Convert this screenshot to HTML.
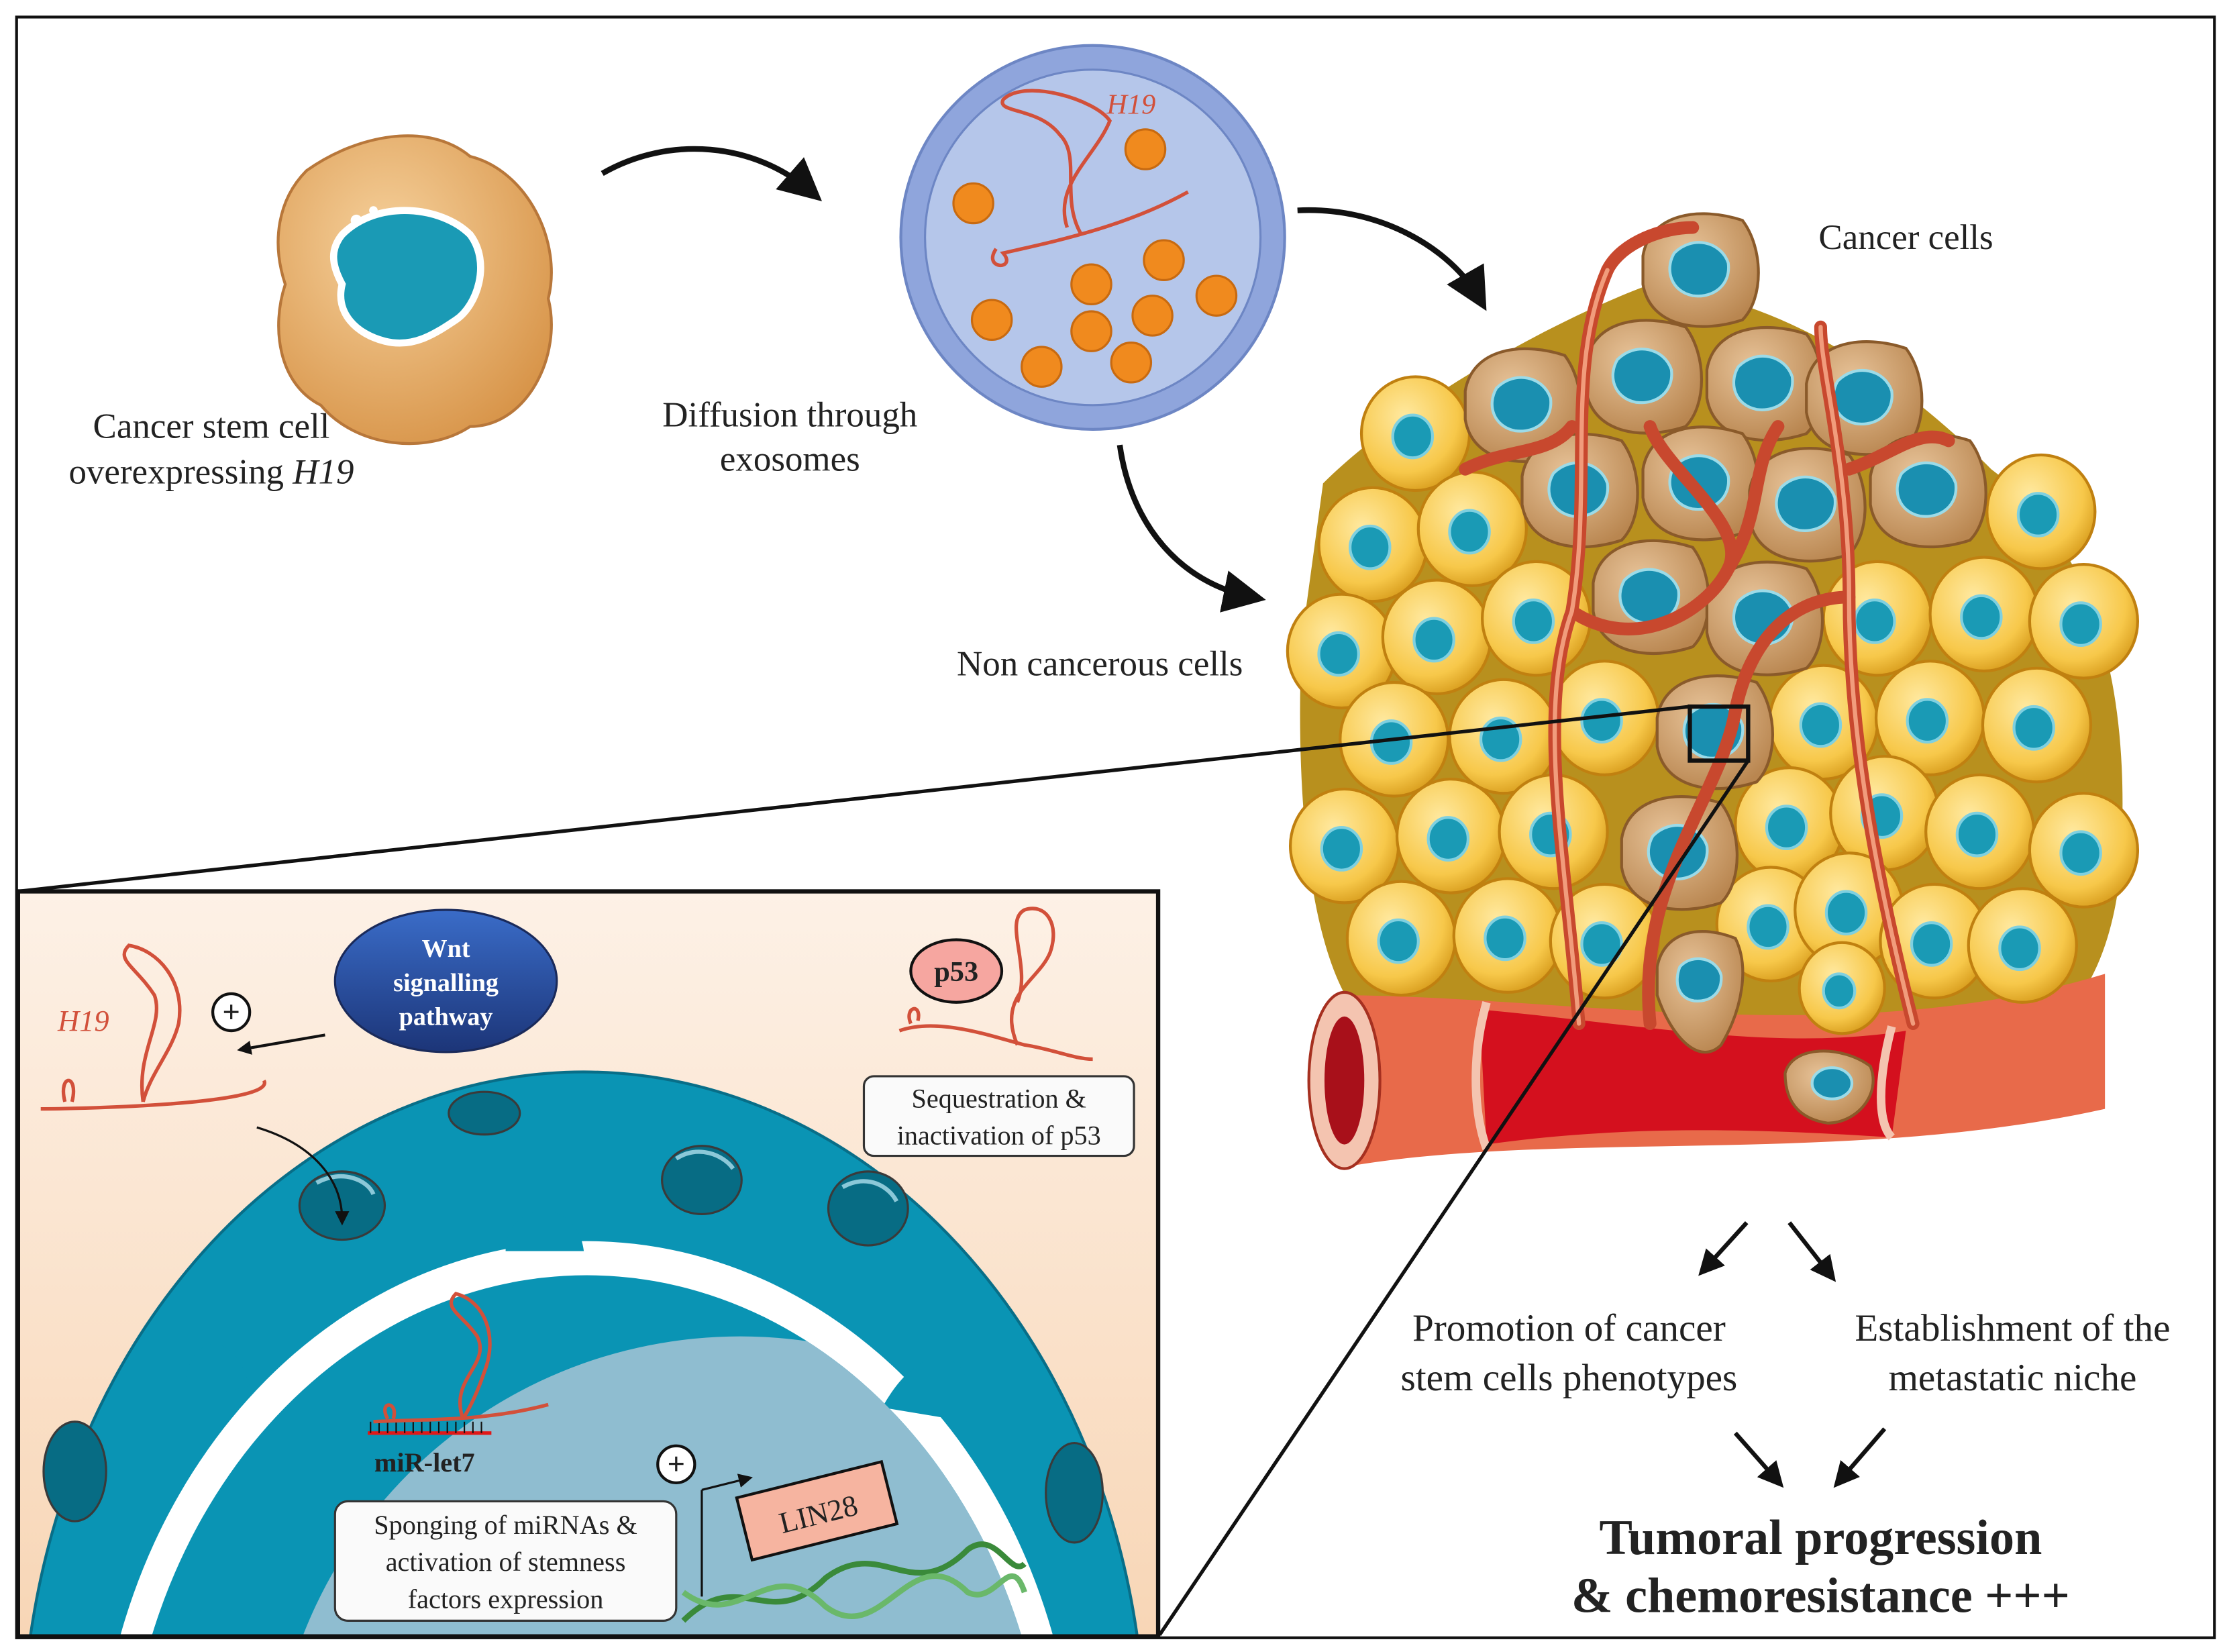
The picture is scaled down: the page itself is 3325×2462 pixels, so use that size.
<!DOCTYPE html>
<html><head><meta charset="utf-8"><style>
html,body{margin:0;padding:0;background:#fff;width:3325px;height:2462px;overflow:hidden}
svg{display:block}
text{font-family:"Liberation Serif",serif;fill:#222}
</style></head><body>
<svg width="3325" height="2462" viewBox="0 0 1568 1162" xmlns="http://www.w3.org/2000/svg">
<defs>
<linearGradient id="peach" x1="0" y1="0" x2="0" y2="1"><stop offset="0" stop-color="#fdf1e6"/><stop offset="1" stop-color="#f8d6b6"/></linearGradient>
<linearGradient id="wnt" x1="0" y1="0" x2="0" y2="1"><stop offset="0" stop-color="#3a6cc8"/><stop offset="1" stop-color="#1c3578"/></linearGradient>
<radialGradient id="ycell" cx="0.4" cy="0.35" r="0.7"><stop offset="0" stop-color="#ffe9a0"/><stop offset="0.7" stop-color="#f7c84a"/><stop offset="1" stop-color="#d69a1a"/></radialGradient>
<radialGradient id="bcell" cx="0.4" cy="0.35" r="0.7"><stop offset="0" stop-color="#e8c49a"/><stop offset="1" stop-color="#b98650"/></radialGradient>
<radialGradient id="csc" cx="0.4" cy="0.35" r="0.7"><stop offset="0" stop-color="#f6d19c"/><stop offset="1" stop-color="#d8954a"/></radialGradient>
<clipPath id="nucclip"><ellipse cx="412" cy="1280" rx="325" ry="383"/></clipPath>
<marker id="ah" markerWidth="10" markerHeight="10" refX="6" refY="5" orient="auto" markerUnits="userSpaceOnUse"><path d="M0,0 L10,5 L0,10 z" fill="#111"/></marker>
<marker id="bh" markerWidth="30" markerHeight="30" refX="20" refY="15" orient="auto" markerUnits="userSpaceOnUse"><path d="M0,0 L30,15 L0,30 z" fill="#111"/></marker>
<marker id="mh" markerWidth="18" markerHeight="18" refX="12" refY="9" orient="auto" markerUnits="userSpaceOnUse"><path d="M0,0 L18,9 L0,18 z" fill="#111"/></marker>
</defs>
<rect width="1568" height="1162" fill="#fff"/>
<rect x="11" y="12" width="1546" height="1140" fill="none" stroke="#111" stroke-width="2"/>

<path d="M215,120 C250,95 300,85 330,110 C370,120 395,170 385,210 C395,250 370,300 330,300 C300,320 250,315 225,285 C195,270 190,230 200,200 C190,170 195,140 215,120 Z" fill="url(#csc)" stroke="#b8773a" stroke-width="2"/>
<path d="M240,165 C265,140 310,145 330,165 C345,185 335,215 320,225 C305,235 290,245 270,240 C250,235 235,220 240,200 C232,185 232,175 240,165 Z" fill="#1a9ab5" stroke="#fff" stroke-width="5"/>
<circle cx="250" cy="155" r="4" fill="#fff"/><circle cx="262" cy="148" r="3" fill="#fff"/>
<text x="148" y="308" font-size="25" text-anchor="middle">Cancer stem cell</text>
<text x="148" y="340" font-size="25" text-anchor="middle">overexpressing <tspan font-style="italic">H19</tspan></text>

<path d="M423,122 C470,95 530,100 570,135" fill="none" stroke="#111" stroke-width="4" marker-end="url(#bh)"/>
<path d="M912,148 C970,145 1020,175 1040,210" fill="none" stroke="#111" stroke-width="4" marker-end="url(#bh)"/>
<path d="M787,313 C795,370 830,410 880,420" fill="none" stroke="#111" stroke-width="4" marker-end="url(#bh)"/>
<text x="555" y="300" font-size="25" text-anchor="middle">Diffusion through</text>
<text x="555" y="331" font-size="25" text-anchor="middle">exosomes</text>

<circle cx="768" cy="167" r="135" fill="#8fa5dc" stroke="#6d86c4" stroke-width="2"/>
<circle cx="768" cy="167" r="118" fill="#b5c6ea" stroke="#6d86c4" stroke-width="1.5"/>
<g fill="#f08a1e" stroke="#c86a10" stroke-width="1.5">
<circle cx="805" cy="105" r="14"/><circle cx="684" cy="143" r="14"/><circle cx="818" cy="183" r="14"/><circle cx="767" cy="200" r="14"/><circle cx="855" cy="208" r="14"/><circle cx="697" cy="225" r="14"/><circle cx="767" cy="233" r="14"/><circle cx="810" cy="222" r="14"/><circle cx="732" cy="258" r="14"/><circle cx="795" cy="255" r="14"/>
</g>
<path d="M700,175 C690,190 715,190 705,178 C740,170 790,160 835,135 M760,165 C745,140 760,110 745,95 C730,75 700,80 705,70 C720,55 770,70 780,85 C770,110 740,130 750,160" fill="none" stroke="#d2503a" stroke-width="2.5"/>
<text x="795" y="80" font-size="20" font-style="italic" text-anchor="middle" style="fill:#d2503a">H19</text>

<path d="M930,340 C980,290 1080,230 1160,200 C1250,210 1330,260 1400,330 C1480,390 1500,500 1490,620 C1480,700 1440,740 1400,730 L960,720 C920,680 910,560 915,450 Z" fill="#b8901e"/>
<path d="M940,700 C1100,700 1300,740 1480,685 L1480,780 C1300,820 1100,795 950,820 Z" fill="#e86a4a"/>
<path d="M1040,710 C1150,720 1250,740 1340,725 L1330,800 C1250,795 1150,790 1045,805 Z" fill="#d4101e"/>
<ellipse cx="945" cy="760" rx="25" ry="62" fill="#f4c4b0" stroke="#a63020" stroke-width="2"/>
<ellipse cx="945" cy="760" rx="14" ry="45" fill="#a8101a"/>
<path d="M1045,705 C1035,740 1035,780 1045,808 M1330,722 C1320,760 1320,790 1330,800" stroke="#f4c4b0" stroke-width="6" fill="none"/>

<g>
<g transform="translate(995,305)"><ellipse rx="38" ry="40" fill="url(#ycell)" stroke="#c08010" stroke-width="2"/><ellipse cx="-2" cy="2" rx="14" ry="15" fill="#1a9ab5" stroke="#7fd0e0" stroke-width="2"/></g>
<g transform="translate(965,383)"><ellipse rx="38" ry="40" fill="url(#ycell)" stroke="#c08010" stroke-width="2"/><ellipse cx="-2" cy="2" rx="14" ry="15" fill="#1a9ab5" stroke="#7fd0e0" stroke-width="2"/></g>
<g transform="translate(1035,372)"><ellipse rx="38" ry="40" fill="url(#ycell)" stroke="#c08010" stroke-width="2"/><ellipse cx="-2" cy="2" rx="14" ry="15" fill="#1a9ab5" stroke="#7fd0e0" stroke-width="2"/></g>
<g transform="translate(1435,360)"><ellipse rx="38" ry="40" fill="url(#ycell)" stroke="#c08010" stroke-width="2"/><ellipse cx="-2" cy="2" rx="14" ry="15" fill="#1a9ab5" stroke="#7fd0e0" stroke-width="2"/></g>
<g transform="translate(943,458)"><ellipse rx="38" ry="40" fill="url(#ycell)" stroke="#c08010" stroke-width="2"/><ellipse cx="-2" cy="2" rx="14" ry="15" fill="#1a9ab5" stroke="#7fd0e0" stroke-width="2"/></g>
<g transform="translate(1010,448)"><ellipse rx="38" ry="40" fill="url(#ycell)" stroke="#c08010" stroke-width="2"/><ellipse cx="-2" cy="2" rx="14" ry="15" fill="#1a9ab5" stroke="#7fd0e0" stroke-width="2"/></g>
<g transform="translate(1080,435)"><ellipse rx="38" ry="40" fill="url(#ycell)" stroke="#c08010" stroke-width="2"/><ellipse cx="-2" cy="2" rx="14" ry="15" fill="#1a9ab5" stroke="#7fd0e0" stroke-width="2"/></g>
<g transform="translate(1320,435)"><ellipse rx="38" ry="40" fill="url(#ycell)" stroke="#c08010" stroke-width="2"/><ellipse cx="-2" cy="2" rx="14" ry="15" fill="#1a9ab5" stroke="#7fd0e0" stroke-width="2"/></g>
<g transform="translate(1395,432)"><ellipse rx="38" ry="40" fill="url(#ycell)" stroke="#c08010" stroke-width="2"/><ellipse cx="-2" cy="2" rx="14" ry="15" fill="#1a9ab5" stroke="#7fd0e0" stroke-width="2"/></g>
<g transform="translate(1465,437)"><ellipse rx="38" ry="40" fill="url(#ycell)" stroke="#c08010" stroke-width="2"/><ellipse cx="-2" cy="2" rx="14" ry="15" fill="#1a9ab5" stroke="#7fd0e0" stroke-width="2"/></g>
<g transform="translate(980,520)"><ellipse rx="38" ry="40" fill="url(#ycell)" stroke="#c08010" stroke-width="2"/><ellipse cx="-2" cy="2" rx="14" ry="15" fill="#1a9ab5" stroke="#7fd0e0" stroke-width="2"/></g>
<g transform="translate(1057,518)"><ellipse rx="38" ry="40" fill="url(#ycell)" stroke="#c08010" stroke-width="2"/><ellipse cx="-2" cy="2" rx="14" ry="15" fill="#1a9ab5" stroke="#7fd0e0" stroke-width="2"/></g>
<g transform="translate(1128,505)"><ellipse rx="38" ry="40" fill="url(#ycell)" stroke="#c08010" stroke-width="2"/><ellipse cx="-2" cy="2" rx="14" ry="15" fill="#1a9ab5" stroke="#7fd0e0" stroke-width="2"/></g>
<g transform="translate(1282,508)"><ellipse rx="38" ry="40" fill="url(#ycell)" stroke="#c08010" stroke-width="2"/><ellipse cx="-2" cy="2" rx="14" ry="15" fill="#1a9ab5" stroke="#7fd0e0" stroke-width="2"/></g>
<g transform="translate(1357,505)"><ellipse rx="38" ry="40" fill="url(#ycell)" stroke="#c08010" stroke-width="2"/><ellipse cx="-2" cy="2" rx="14" ry="15" fill="#1a9ab5" stroke="#7fd0e0" stroke-width="2"/></g>
<g transform="translate(1432,510)"><ellipse rx="38" ry="40" fill="url(#ycell)" stroke="#c08010" stroke-width="2"/><ellipse cx="-2" cy="2" rx="14" ry="15" fill="#1a9ab5" stroke="#7fd0e0" stroke-width="2"/></g>
<g transform="translate(945,595)"><ellipse rx="38" ry="40" fill="url(#ycell)" stroke="#c08010" stroke-width="2"/><ellipse cx="-2" cy="2" rx="14" ry="15" fill="#1a9ab5" stroke="#7fd0e0" stroke-width="2"/></g>
<g transform="translate(1020,588)"><ellipse rx="38" ry="40" fill="url(#ycell)" stroke="#c08010" stroke-width="2"/><ellipse cx="-2" cy="2" rx="14" ry="15" fill="#1a9ab5" stroke="#7fd0e0" stroke-width="2"/></g>
<g transform="translate(1092,585)"><ellipse rx="38" ry="40" fill="url(#ycell)" stroke="#c08010" stroke-width="2"/><ellipse cx="-2" cy="2" rx="14" ry="15" fill="#1a9ab5" stroke="#7fd0e0" stroke-width="2"/></g>
<g transform="translate(1258,580)"><ellipse rx="38" ry="40" fill="url(#ycell)" stroke="#c08010" stroke-width="2"/><ellipse cx="-2" cy="2" rx="14" ry="15" fill="#1a9ab5" stroke="#7fd0e0" stroke-width="2"/></g>
<g transform="translate(1325,572)"><ellipse rx="38" ry="40" fill="url(#ycell)" stroke="#c08010" stroke-width="2"/><ellipse cx="-2" cy="2" rx="14" ry="15" fill="#1a9ab5" stroke="#7fd0e0" stroke-width="2"/></g>
<g transform="translate(1392,585)"><ellipse rx="38" ry="40" fill="url(#ycell)" stroke="#c08010" stroke-width="2"/><ellipse cx="-2" cy="2" rx="14" ry="15" fill="#1a9ab5" stroke="#7fd0e0" stroke-width="2"/></g>
<g transform="translate(1465,598)"><ellipse rx="38" ry="40" fill="url(#ycell)" stroke="#c08010" stroke-width="2"/><ellipse cx="-2" cy="2" rx="14" ry="15" fill="#1a9ab5" stroke="#7fd0e0" stroke-width="2"/></g>
<g transform="translate(985,660)"><ellipse rx="38" ry="40" fill="url(#ycell)" stroke="#c08010" stroke-width="2"/><ellipse cx="-2" cy="2" rx="14" ry="15" fill="#1a9ab5" stroke="#7fd0e0" stroke-width="2"/></g>
<g transform="translate(1060,658)"><ellipse rx="38" ry="40" fill="url(#ycell)" stroke="#c08010" stroke-width="2"/><ellipse cx="-2" cy="2" rx="14" ry="15" fill="#1a9ab5" stroke="#7fd0e0" stroke-width="2"/></g>
<g transform="translate(1128,662)"><ellipse rx="38" ry="40" fill="url(#ycell)" stroke="#c08010" stroke-width="2"/><ellipse cx="-2" cy="2" rx="14" ry="15" fill="#1a9ab5" stroke="#7fd0e0" stroke-width="2"/></g>
<g transform="translate(1245,650)"><ellipse rx="38" ry="40" fill="url(#ycell)" stroke="#c08010" stroke-width="2"/><ellipse cx="-2" cy="2" rx="14" ry="15" fill="#1a9ab5" stroke="#7fd0e0" stroke-width="2"/></g>
<g transform="translate(1300,640)"><ellipse rx="38" ry="40" fill="url(#ycell)" stroke="#c08010" stroke-width="2"/><ellipse cx="-2" cy="2" rx="14" ry="15" fill="#1a9ab5" stroke="#7fd0e0" stroke-width="2"/></g>
<g transform="translate(1360,662)"><ellipse rx="38" ry="40" fill="url(#ycell)" stroke="#c08010" stroke-width="2"/><ellipse cx="-2" cy="2" rx="14" ry="15" fill="#1a9ab5" stroke="#7fd0e0" stroke-width="2"/></g>
<g transform="translate(1422,665)"><ellipse rx="38" ry="40" fill="url(#ycell)" stroke="#c08010" stroke-width="2"/><ellipse cx="-2" cy="2" rx="14" ry="15" fill="#1a9ab5" stroke="#7fd0e0" stroke-width="2"/></g>
<g transform="translate(1295,695)"><ellipse rx="30" ry="32" fill="url(#ycell)" stroke="#c08010" stroke-width="2"/><ellipse cx="-2" cy="2" rx="11" ry="12" fill="#1a9ab5" stroke="#7fd0e0" stroke-width="2"/></g>
</g>

<g stroke="#8a5a2a" stroke-width="2">
<g transform="translate(1195,190)"><path d="M-40,-10 C-35,-40 0,-45 30,-35 C45,-15 45,20 30,35 C0,45 -35,40 -40,10 Z" fill="url(#bcell)"/><path d="M-18,-12 C-5,-25 15,-20 20,-5 C22,10 10,20 -5,18 C-20,15 -25,0 -18,-12Z" fill="#1a8fb0" stroke="#9cdbe8"/></g>
<g transform="translate(1070,285)"><path d="M-40,-10 C-35,-40 0,-45 30,-35 C45,-15 45,20 30,35 C0,45 -35,40 -40,10 Z" fill="url(#bcell)"/><path d="M-18,-12 C-5,-25 15,-20 20,-5 C22,10 10,20 -5,18 C-20,15 -25,0 -18,-12Z" fill="#1a8fb0" stroke="#9cdbe8"/></g>
<g transform="translate(1155,265)"><path d="M-40,-10 C-35,-40 0,-45 30,-35 C45,-15 45,20 30,35 C0,45 -35,40 -40,10 Z" fill="url(#bcell)"/><path d="M-18,-12 C-5,-25 15,-20 20,-5 C22,10 10,20 -5,18 C-20,15 -25,0 -18,-12Z" fill="#1a8fb0" stroke="#9cdbe8"/></g>
<g transform="translate(1240,270)"><path d="M-40,-10 C-35,-40 0,-45 30,-35 C45,-15 45,20 30,35 C0,45 -35,40 -40,10 Z" fill="url(#bcell)"/><path d="M-18,-12 C-5,-25 15,-20 20,-5 C22,10 10,20 -5,18 C-20,15 -25,0 -18,-12Z" fill="#1a8fb0" stroke="#9cdbe8"/></g>
<g transform="translate(1310,280)"><path d="M-40,-10 C-35,-40 0,-45 30,-35 C45,-15 45,20 30,35 C0,45 -35,40 -40,10 Z" fill="url(#bcell)"/><path d="M-18,-12 C-5,-25 15,-20 20,-5 C22,10 10,20 -5,18 C-20,15 -25,0 -18,-12Z" fill="#1a8fb0" stroke="#9cdbe8"/></g>
<g transform="translate(1110,345)"><path d="M-40,-10 C-35,-40 0,-45 30,-35 C45,-15 45,20 30,35 C0,45 -35,40 -40,10 Z" fill="url(#bcell)"/><path d="M-18,-12 C-5,-25 15,-20 20,-5 C22,10 10,20 -5,18 C-20,15 -25,0 -18,-12Z" fill="#1a8fb0" stroke="#9cdbe8"/></g>
<g transform="translate(1195,340)"><path d="M-40,-10 C-35,-40 0,-45 30,-35 C45,-15 45,20 30,35 C0,45 -35,40 -40,10 Z" fill="url(#bcell)"/><path d="M-18,-12 C-5,-25 15,-20 20,-5 C22,10 10,20 -5,18 C-20,15 -25,0 -18,-12Z" fill="#1a8fb0" stroke="#9cdbe8"/></g>
<g transform="translate(1270,355)"><path d="M-40,-10 C-35,-40 0,-45 30,-35 C45,-15 45,20 30,35 C0,45 -35,40 -40,10 Z" fill="url(#bcell)"/><path d="M-18,-12 C-5,-25 15,-20 20,-5 C22,10 10,20 -5,18 C-20,15 -25,0 -18,-12Z" fill="#1a8fb0" stroke="#9cdbe8"/></g>
<g transform="translate(1355,345)"><path d="M-40,-10 C-35,-40 0,-45 30,-35 C45,-15 45,20 30,35 C0,45 -35,40 -40,10 Z" fill="url(#bcell)"/><path d="M-18,-12 C-5,-25 15,-20 20,-5 C22,10 10,20 -5,18 C-20,15 -25,0 -18,-12Z" fill="#1a8fb0" stroke="#9cdbe8"/></g>
<g transform="translate(1160,420)"><path d="M-40,-10 C-35,-40 0,-45 30,-35 C45,-15 45,20 30,35 C0,45 -35,40 -40,10 Z" fill="url(#bcell)"/><path d="M-18,-12 C-5,-25 15,-20 20,-5 C22,10 10,20 -5,18 C-20,15 -25,0 -18,-12Z" fill="#1a8fb0" stroke="#9cdbe8"/></g>
<g transform="translate(1240,435)"><path d="M-40,-10 C-35,-40 0,-45 30,-35 C45,-15 45,20 30,35 C0,45 -35,40 -40,10 Z" fill="url(#bcell)"/><path d="M-18,-12 C-5,-25 15,-20 20,-5 C22,10 10,20 -5,18 C-20,15 -25,0 -18,-12Z" fill="#1a8fb0" stroke="#9cdbe8"/></g>
<g transform="translate(1205,515)"><path d="M-40,-10 C-35,-40 0,-45 30,-35 C45,-15 45,20 30,35 C0,45 -35,40 -40,10 Z" fill="url(#bcell)"/><path d="M-18,-12 C-5,-25 15,-20 20,-5 C22,10 10,20 -5,18 C-20,15 -25,0 -18,-12Z" fill="#1a8fb0" stroke="#9cdbe8"/></g>
<g transform="translate(1180,600)"><path d="M-40,-10 C-35,-40 0,-45 30,-35 C45,-15 45,20 30,35 C0,45 -35,40 -40,10 Z" fill="url(#bcell)"/><path d="M-18,-12 C-5,-25 15,-20 20,-5 C22,10 10,20 -5,18 C-20,15 -25,0 -18,-12Z" fill="#1a8fb0" stroke="#9cdbe8"/></g>
<g transform="translate(1195,690)"><path d="M-30,-10 C-25,-35 0,-40 25,-30 C35,-10 30,20 15,45 C0,60 -20,40 -30,10 Z" fill="url(#bcell)"/><path d="M-14,-10 C-5,-20 12,-16 15,-4 C16,8 8,15 -4,14 C-16,12 -18,0 -14,-10Z" fill="#1a8fb0" stroke="#9cdbe8"/></g>
<g transform="translate(1285,765)"><path d="M-30,-10 C-25,-30 10,-30 30,-15 C38,5 20,25 0,25 C-20,22 -30,10 -30,-10 Z" fill="url(#bcell)"/><ellipse cx="3" cy="-3" rx="14" ry="11" fill="#1a8fb0" stroke="#9cdbe8"/></g>
</g>
<g fill="none" stroke="#c8482e" stroke-width="9" stroke-linecap="round">
<path d="M1110,720 C1100,600 1080,500 1105,430 C1120,340 1100,260 1130,190"/>
<path d="M1345,720 C1320,620 1300,520 1300,420 C1300,330 1280,260 1280,230"/>
<path d="M1105,430 C1150,460 1200,430 1215,400 C1230,370 1170,330 1160,300"/>
<path d="M1300,420 C1260,420 1230,450 1220,500 C1210,560 1150,620 1160,720"/>
<path d="M1130,190 C1140,170 1170,160 1190,160 M1215,400 C1240,360 1230,330 1250,300"/>
<path d="M1030,330 C1060,315 1090,320 1105,300 M1300,330 C1330,320 1350,300 1370,310"/>
</g>
<g fill="none" stroke="#f19c7c" stroke-width="3" stroke-linecap="round">
<path d="M1110,720 C1100,600 1080,500 1105,430 C1120,340 1100,260 1130,190"/>
<path d="M1345,720 C1320,620 1300,520 1300,420 C1300,330 1280,260 1280,230"/>
</g>
<rect x="1188" y="497" width="41" height="38" fill="none" stroke="#111" stroke-width="3"/>
<text x="1340" y="175" font-size="25" text-anchor="middle">Cancer cells</text>
<text x="773" y="475" font-size="25" text-anchor="middle">Non cancerous cells</text>

<line x1="1188" y1="497" x2="12" y2="627" stroke="#111" stroke-width="2.5"/>
<line x1="1229" y1="535" x2="815" y2="1150" stroke="#111" stroke-width="2.5"/>

<line x1="1228" y1="860" x2="1198" y2="893" stroke="#111" stroke-width="3" marker-end="url(#mh)"/>
<line x1="1258" y1="860" x2="1287" y2="897" stroke="#111" stroke-width="3" marker-end="url(#mh)"/>
<line x1="1220" y1="1008" x2="1250" y2="1042" stroke="#111" stroke-width="3" marker-end="url(#mh)"/>
<line x1="1325" y1="1005" x2="1293" y2="1042" stroke="#111" stroke-width="3" marker-end="url(#mh)"/>
<text x="1103" y="943" font-size="27" text-anchor="middle">Promotion of cancer</text>
<text x="1103" y="978" font-size="27" text-anchor="middle">stem cells  phenotypes</text>
<text x="1415" y="943" font-size="27" text-anchor="middle">Establishment of the</text>
<text x="1415" y="978" font-size="27" text-anchor="middle">metastatic niche</text>
<text x="1280" y="1093" font-size="35" font-weight="bold" text-anchor="middle">Tumoral progression</text>
<text x="1280" y="1134" font-size="35" font-weight="bold" text-anchor="middle">&amp; chemoresistance +++</text>

<svg x="12" y="627" width="802" height="524" viewBox="12 627 802 524">
<rect x="12" y="627" width="802" height="524" fill="url(#peach)"/>
<ellipse cx="410" cy="1232" rx="395" ry="478" fill="#0a94b4" stroke="#086e88" stroke-width="2"/>
<ellipse cx="412" cy="1275" rx="345" ry="402" fill="#fff"/>
<ellipse cx="412" cy="1280" rx="325" ry="383" fill="#0a94b4"/>
<path d="M355,880 C355,845 405,840 410,880 Z" fill="#0a94b4"/>
<path d="M130,985 C125,945 160,925 175,975 Z M620,990 C650,935 690,950 680,1000 Z" fill="#0a94b4"/>
<circle cx="520" cy="1270" r="330" fill="#8fbdd0" clip-path="url(#nucclip)"/>
<g fill="#076c84" stroke="#3a3a3a" stroke-width="1.5">
<ellipse cx="340" cy="783" rx="25" ry="15"/><ellipse cx="240" cy="848" rx="30" ry="24"/><ellipse cx="493" cy="830" rx="28" ry="24"/><ellipse cx="610" cy="850" rx="28" ry="26"/><ellipse cx="52" cy="1035" rx="22" ry="35"/><ellipse cx="755" cy="1050" rx="20" ry="35"/>
</g>
<g fill="none" stroke="#8bc8d8" stroke-width="3"><path d="M222,832 C240,822 258,830 262,840"/><path d="M475,815 C490,805 508,812 515,822"/><path d="M592,835 C610,825 625,835 630,845"/></g>
<path d="M28,780 C40,780 195,778 185,760 M45,775 C40,755 55,755 50,775 M100,775 C95,740 115,720 108,700 C95,680 80,675 90,665 C110,668 130,690 125,720 C120,740 105,755 100,775" fill="none" stroke="#d2503a" stroke-width="2.5"/>
<text x="58" y="725" font-size="21" font-style="italic" text-anchor="middle" style="fill:#d2503a">H19</text>
<circle cx="162" cy="712" r="13" fill="#fff" stroke="#111" stroke-width="2"/>
<text x="162" y="719" font-size="22" font-weight="bold" text-anchor="middle">+</text>
<line x1="228" y1="728" x2="170" y2="738" stroke="#111" stroke-width="2" marker-end="url(#ah)"/>
<ellipse cx="313" cy="690" rx="78" ry="50" fill="url(#wnt)" stroke="#1a2a5a" stroke-width="1.5"/>
<text x="313" y="673" font-size="18" font-weight="bold" text-anchor="middle" style="fill:#fff">Wnt</text>
<text x="313" y="697" font-size="18" font-weight="bold" text-anchor="middle" style="fill:#fff">signalling</text>
<text x="313" y="721" font-size="18" font-weight="bold" text-anchor="middle" style="fill:#fff">pathway</text>
<path d="M180,793 C220,805 240,830 240,858" fill="none" stroke="#111" stroke-width="1.5" marker-end="url(#ah)"/>
<path d="M632,725 C660,715 700,730 720,735 C740,738 755,745 768,745 M640,720 C635,708 648,705 645,718 M715,735 C700,700 730,690 738,670 C745,650 735,635 720,640 C705,648 725,680 715,705" fill="none" stroke="#d2503a" stroke-width="2.5"/>
<ellipse cx="672" cy="683" rx="32" ry="22" fill="#f6a6a0" stroke="#111" stroke-width="2"/>
<text x="672" y="690" font-size="20" font-weight="bold" text-anchor="middle">p53</text>
<rect x="607" y="757" width="190" height="56" rx="7" fill="#fafafa" stroke="#333" stroke-width="1.5"/>
<text x="702" y="779" font-size="19" text-anchor="middle">Sequestration &amp;</text>
<text x="702" y="805" font-size="19" text-anchor="middle">inactivation of p53</text>
<line x1="258" y1="1008" x2="345" y2="1008" stroke="#e01818" stroke-width="2.5"/>
<path d="M260,1000 l0,8 M266,1000 l0,8 M272,1000 l0,8 M278,1000 l0,8 M284,1000 l0,8 M290,1000 l0,8 M296,1000 l0,8 M302,1000 l0,8 M308,1000 l0,8 M314,1000 l0,8 M320,1000 l0,8 M326,1000 l0,8 M332,1000 l0,8 M338,1000 l0,8" stroke="#111" stroke-width="1"/>
<path d="M262,1000 C300,998 340,1000 385,988 M272,998 C265,985 280,985 276,998 M325,998 C315,970 345,960 335,940 C325,925 310,920 320,910 C340,915 350,940 340,965 C335,980 330,990 325,998" fill="none" stroke="#d2503a" stroke-width="2.5"/>
<text x="298" y="1035" font-size="19" font-weight="bold" text-anchor="middle">miR-let7</text>
<path d="M480,1140 C520,1100 540,1150 580,1110 C620,1080 640,1130 680,1090 C700,1075 710,1110 720,1100" fill="none" stroke="#3a8a3a" stroke-width="4"/>
<path d="M480,1120 C520,1150 540,1090 580,1130 C620,1160 640,1080 680,1120 C700,1130 710,1090 720,1120" fill="none" stroke="#6ab86a" stroke-width="4"/>
<line x1="493" y1="1123" x2="493" y2="1048" stroke="#111" stroke-width="1.5"/>
<line x1="493" y1="1048" x2="525" y2="1040" stroke="#111" stroke-width="1.5" marker-end="url(#ah)"/>
<circle cx="475" cy="1030" r="13" fill="#fff" stroke="#111" stroke-width="2"/>
<text x="475" y="1037" font-size="22" font-weight="bold" text-anchor="middle">+</text>
<g transform="rotate(-14 575 1065)"><rect x="522" y="1040" width="105" height="45" fill="#f6b4a0" stroke="#111" stroke-width="2"/>
<text x="575" y="1072" font-size="21" text-anchor="middle">LIN28</text></g>
<rect x="235" y="1056" width="240" height="84" rx="9" fill="#fafafa" stroke="#333" stroke-width="1.5"/>
<text x="355" y="1079" font-size="19" text-anchor="middle">Sponging of miRNAs  &amp;</text>
<text x="355" y="1105" font-size="19" text-anchor="middle">activation of stemness</text>
<text x="355" y="1131" font-size="19" text-anchor="middle">factors expression</text>
</svg>
<rect x="12" y="627" width="802" height="524" fill="none" stroke="#111" stroke-width="3"/>
</svg>
</body></html>
